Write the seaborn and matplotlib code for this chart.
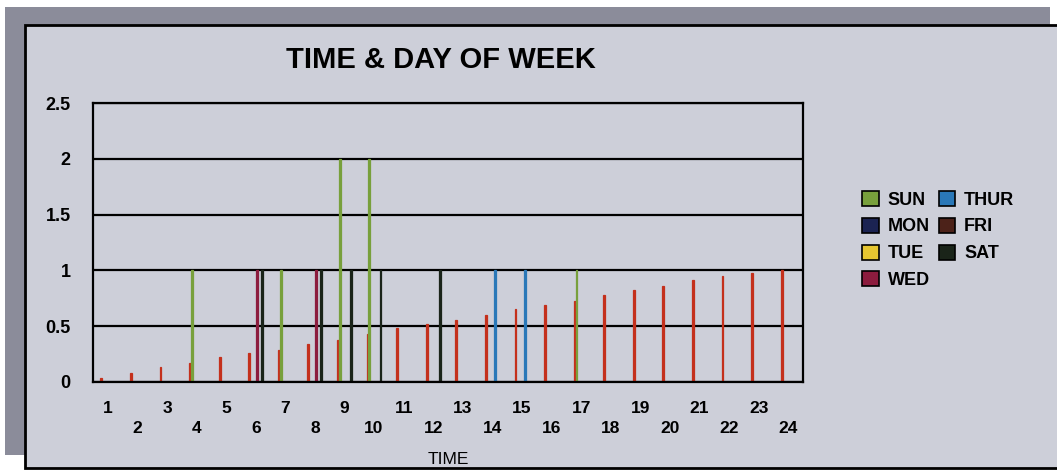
import pandas as pd
import matplotlib.pyplot as plt
from matplotlib.patches import Rectangle, Patch
import seaborn as sns

hours = [str(h) for h in range(1, 25)]
time_frac = [0.04, 0.08, 0.13, 0.17, 0.22, 0.26, 0.29, 0.34, 0.38, 0.43, 0.48, 0.52,
             0.56, 0.60, 0.65, 0.69, 0.73, 0.78, 0.82, 0.86, 0.91, 0.95, 0.98, 1.0]
sun = [0, 0, 0, 1, 0, 0, 1, 0, 2, 2, 0, 0, 0, 0, 0, 0, 1, 0, 0, 0, 0, 0, 0, 0]
mon = [0] * 24
tue = [0] * 24
wed = [0, 0, 0, 0, 0, 1, 0, 1, 0, 0, 0, 0, 0, 0, 0, 0, 0, 0, 0, 0, 0, 0, 0, 0]
thur = [0, 0, 0, 0, 0, 0, 0, 0, 0, 0, 0, 0, 0, 1, 1, 0, 0, 0, 0, 0, 0, 0, 0, 0]
fri = [0] * 24
sat = [0, 0, 0, 0, 0, 1, 0, 1, 1, 1, 0, 1, 0, 0, 0, 0, 0, 0, 0, 0, 0, 0, 0, 0]

series_names = ['TIME', 'SUN', 'MON', 'TUE', 'WED', 'THUR', 'FRI', 'SAT']
series_vals = [time_frac, sun, mon, tue, wed, thur, fri, sat]
colors = {'TIME': '#c4301c', 'SUN': '#78a03c', 'MON': '#1b2352', 'TUE': '#e6c631',
          'WED': '#8c1c3e', 'THUR': '#2a78b8', 'FRI': '#4c2219', 'SAT': '#1a2419'}

rows = []
for name, vals in zip(series_names, series_vals):
    for h, v in zip(hours, vals):
        rows.append({'hour': h, 'series': name, 'value': v})
df = pd.DataFrame(rows)

sns.set_style('white')
plt.rcParams['font.family'] = ['Liberation Sans', 'DejaVu Sans']
plt.rcParams['text.color'] = 'black'
plt.rcParams['xtick.color'] = 'black'
plt.rcParams['ytick.color'] = 'black'
plt.rcParams['axes.labelcolor'] = 'black'

W, H = 1057, 475
fig = plt.figure(figsize=(W / 100, H / 100), dpi=100, facecolor='white')


def box(x0, y0, x1, y1):
    # pixel box (top-left origin) -> figure fraction rect
    return (x0 / W, 1 - y1 / H), (x1 - x0) / W, (y1 - y0) / H


bg = '#cdcfd9'
xy, w, h = box(5, 7, 1050, 455)
fig.add_artist(Rectangle(xy, w, h, transform=fig.transFigure, facecolor='#8b8c9a',
                         edgecolor='none', zorder=-20))
xy, w, h = box(25, 25, 1065, 468)
fig.add_artist(Rectangle(xy, w, h, transform=fig.transFigure, facecolor=bg,
                         edgecolor='black', lw=2, zorder=-10))

ax = fig.add_axes([93 / W, 1 - 382 / H, 710 / W, 279 / H])
ax.set_facecolor(bg)

sns.barplot(data=df, x='hour', y='value', hue='series', hue_order=series_names,
            palette=colors, width=0.5, gap=0, errorbar=None, saturation=1,
            legend=False, ax=ax)
for p in ax.patches:
    p.set_edgecolor(p.get_facecolor())
    p.set_linewidth(0.9)

ax.set_ylim(0, 2.5)
ax.set_xlim(-0.5, 23.5)
ax.set_yticks([0, 0.5, 1, 1.5, 2, 2.5])
ax.set_yticklabels(['0', '0.5', '1', '1.5', '2', '2.5'], fontsize=13, fontweight='bold')
ax.yaxis.grid(True, color='black', lw=1.6)
ax.set_axisbelow(True)
ax.set_xticks(range(24))
ax.set_xticklabels([h if int(h) % 2 else '\n' + h for h in hours],
                   fontsize=12.5, fontweight='bold', linespacing=1.4)
ax.tick_params(axis='both', length=0)
ax.tick_params(axis='y', pad=16)
ax.tick_params(axis='x', pad=14)
for s in ax.spines.values():
    s.set_color('black')
    s.set_linewidth(1.6)
ax.set_xlabel('TIME', fontsize=12.5, labelpad=11)
ax.set_ylabel('')

fig.text(441 / W, 1 - 60 / H, 'TIME & DAY OF WEEK', ha='center', va='center',
         fontsize=21, fontweight='bold', family=['Liberation Sans Narrow', 'Liberation Sans'])

handles = [Patch(facecolor=colors[n], edgecolor='black', lw=1.2) for n in series_names[1:]]
fig.legend(handles, series_names[1:], ncol=2, loc='center left',
           bbox_to_anchor=(846 / W, 1 - 240 / H), frameon=False,
           prop={'weight': 'bold', 'size': 13}, handlelength=0.9, handleheight=0.9,
           handletextpad=0.5, columnspacing=0.5, labelspacing=0.5)

fig.savefig('out.png', dpi=100, facecolor='white')
